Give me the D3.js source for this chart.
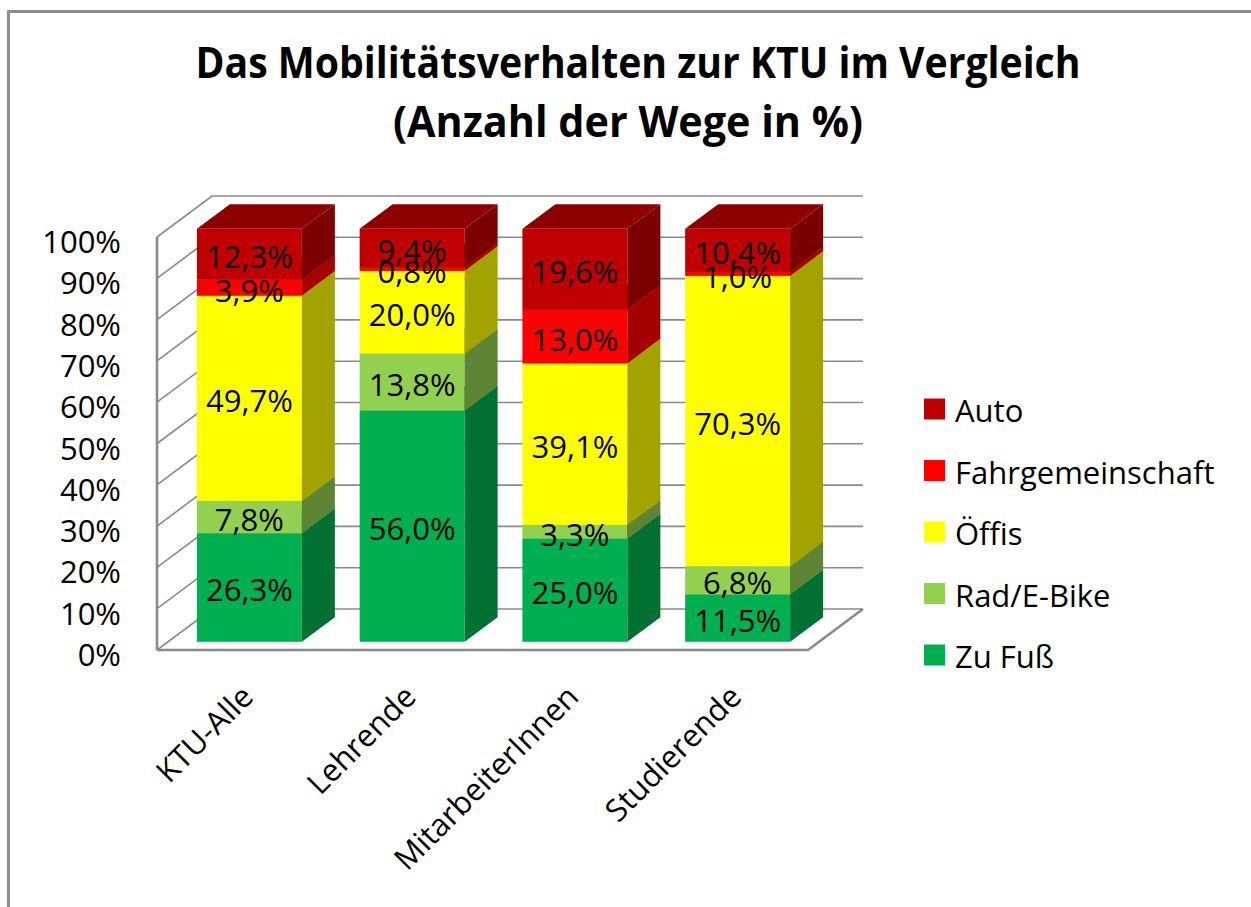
<!DOCTYPE html>
<html>
<head>
<meta charset="utf-8">
<script src="https://cdn.jsdelivr.net/npm/d3@7"></script>
<style>
  body { margin: 0; background: #fff; }
  .text { font-family: 'Open Sans', sans-serif; font-size: 31px; fill: #000; }
  .text--title { font-weight: bold; font-size: 43px; text-anchor: middle; }
  .grid { stroke: #8a8a8a; stroke-width: 1.6; fill: none; }
  .grid--thick { stroke-width: 2.6; }
</style>
</head>
<body>
<svg class="chart" width="1251" height="907"></svg>
<script>
const categories = ['KTU-Alle', 'Lehrende', 'MitarbeiterInnen', 'Studierende'];
const seriesNames = ['Zu Fuß', 'Rad/E-Bike', 'Öffis', 'Fahrgemeinschaft', 'Auto'];
const zuFuss = [26.3, 56.0, 25.0, 11.5];
const radEBike = [7.8, 13.8, 3.3, 6.8];
const oeffis = [49.7, 20.0, 39.1, 70.3];
const fahrgemeinschaft = [3.9, 0.8, 13.0, 1.0];
const autoValues = [12.3, 9.4, 19.6, 10.4];
const yTicks = [0, 10, 20, 30, 40, 50, 60, 70, 80, 90, 100];
const seriesColors = ['#00B050', '#92D050', '#FFFF00', '#FF0000', '#C00000'];
const titleLines = ['Das Mobilitätsverhalten zur KTU im Vergleich', '(Anzahl der Wege in %)'];

const shade = (color, k) => {
  const c = d3.rgb(color);
  return d3.rgb(c.r * k, c.g * k, c.b * k).formatHex();
};

const formatPercent = v => `${v.toFixed(1).replace('.', ',')}%`;

const drawFrame = (svg) => {
  svg.append('path')
    .attr('d', 'M8.5,1000 V11.5 H1300')
    .attr('fill', 'none')
    .attr('stroke', '#8c8c8c')
    .attr('stroke-width', 3);
};

const drawTitle = (svg) => {
  const lines = [
    { x: 638, y: 78, width: 885 },
    { x: 628, y: 137, width: 470 },
  ];

  titleLines.forEach((line, i) => {
    svg.append('text')
      .classed('text text--title', true)
      .attr('x', lines[i].x)
      .attr('y', lines[i].y)
      .attr('textLength', lines[i].width)
      .attr('lengthAdjust', 'spacingAndGlyphs')
      .text(line);
  });
};

const drawWalls = (svg, xScale, yScale, depth) => {
  const [left, right] = xScale.range();
  const walls = svg.append('g');

  // back wall and side wall gridlines
  yTicks.forEach((tick) => {
    const y = yScale(tick);
    walls.append('path')
      .classed('grid', true)
      .attr('d', `M${left},${y} L${left + depth.x},${y + depth.y} H${right + depth.x}`);
  });

  walls.append('line')
    .classed('grid grid--thick', true)
    .attr('x1', left).attr('x2', left)
    .attr('y1', yScale(0)).attr('y2', yScale(100));

  walls.append('path')
    .classed('grid grid--thick', true)
    .attr('d', `M${left},${yScale(0)} H${right} L${right + depth.x},${yScale(0) + depth.y}`);
};

const drawYAxisLabels = (svg, yScale) => {
  svg.append('g')
    .selectAll('text')
    .data(yTicks)
    .enter()
    .append('text')
    .classed('text', true)
    .attr('x', 121)
    .attr('y', d => yScale(d) + 4)
    .attr('text-anchor', 'end')
    .attr('dominant-baseline', 'central')
    .text(d => `${d}%`);
};

const drawBars = (svg, stacked, xScale, yScale, depth) => {
  const front = { x: depth.x * 0.2, y: depth.y * 0.2 };
  const side = { x: depth.x * 0.6, y: depth.y * 0.6 };
  const barWidth = xScale.bandwidth();

  categories.forEach((category, ci) => {
    const bar = svg.append('g');
    const x0 = xScale(category) + front.x;
    const x1 = x0 + barWidth;

    stacked.forEach((layer, si) => {
      const [v0, v1] = layer[ci];
      const color = seriesColors[si];
      const yBottom = yScale(v0) + front.y;
      const yTop = yScale(v1) + front.y;

      bar.append('rect')
        .attr('x', x0).attr('y', yTop)
        .attr('width', barWidth).attr('height', yBottom - yTop)
        .attr('fill', color);

      bar.append('path')
        .attr('d', `M${x1},${yBottom} V${yTop} l${side.x},${side.y} V${yBottom + side.y} Z`)
        .attr('fill', shade(color, 0.64));

      bar.append('path')
        .attr('d', `M${x0},${yTop} H${x1} l${side.x},${side.y} H${x0 + side.x} Z`)
        .attr('fill', shade(color, 0.74));
    });

    stacked.forEach((layer) => {
      const [v0, v1] = layer[ci];
      bar.append('text')
        .classed('text', true)
        .attr('x', x0 + barWidth / 2)
        .attr('y', yScale((v0 + v1) / 2) + front.y + 2)
        .attr('text-anchor', 'middle')
        .attr('dominant-baseline', 'central')
        .text(formatPercent(v1 - v0));
    });
  });
};

const drawXAxisLabels = (svg, xScale) => {
  categories.forEach((category) => {
    const cx = xScale(category) + xScale.bandwidth() / 2;
    svg.append('text')
      .classed('text', true)
      .attr('transform', `translate(${cx - 2}, 680) rotate(-45)`)
      .attr('text-anchor', 'end')
      .attr('dominant-baseline', 'hanging')
      .text(category);
  });
};

const drawLegend = (svg) => {
  const legend = svg.append('g').attr('transform', 'translate(924, 409)');
  const order = seriesNames.map((name, i) => ({ name, color: seriesColors[i] })).reverse();
  const lineHeight = 61.5;

  order.forEach(({ name, color }, i) => {
    legend.append('rect')
      .attr('x', 0).attr('y', i * lineHeight - 10.5)
      .attr('width', 21).attr('height', 21)
      .attr('fill', color);

    legend.append('text')
      .classed('text', true)
      .attr('x', 31)
      .attr('y', i * lineHeight + 1)
      .attr('dominant-baseline', 'central')
      .text(name);
  });
};

const startApp = () => {
  const svg = d3.select('.chart');
  const depth = { x: 55, y: -41 };
  const xScale = d3.scaleBand()
    .domain(categories)
    .range([157, 808])
    .paddingInner(0.355)
    .paddingOuter(0.1775);
  const yScale = d3.scaleLinear().domain([0, 100]).range([650, 237]);

  const table = categories.map((category, i) => ({
    category,
    'Zu Fuß': zuFuss[i],
    'Rad/E-Bike': radEBike[i],
    'Öffis': oeffis[i],
    'Fahrgemeinschaft': fahrgemeinschaft[i],
    'Auto': autoValues[i],
  }));
  const stacked = d3.stack().keys(seriesNames)(table);

  drawFrame(svg);
  drawTitle(svg);
  drawWalls(svg, xScale, yScale, depth);
  drawYAxisLabels(svg, yScale);
  drawBars(svg, stacked, xScale, yScale, depth);
  drawXAxisLabels(svg, xScale);
  drawLegend(svg);
};

window.onload = startApp;
</script>
</body>
</html>
